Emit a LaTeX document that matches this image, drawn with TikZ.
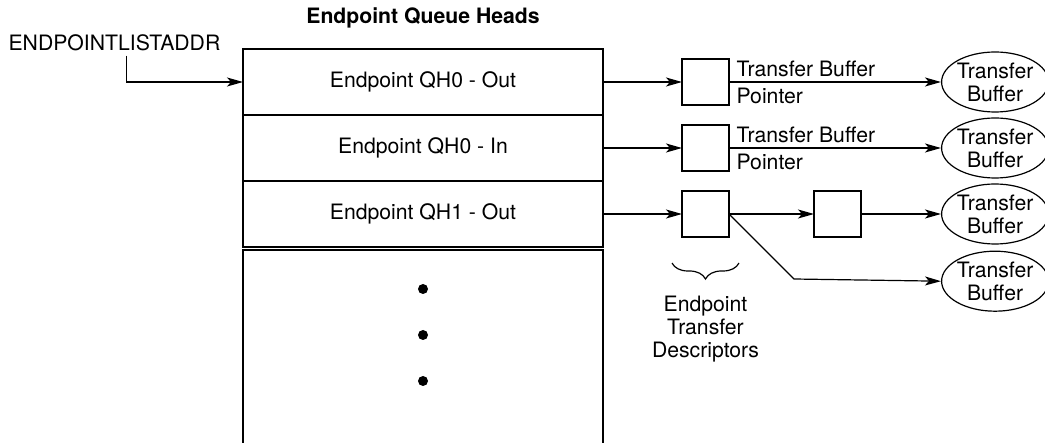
\documentclass[tikz,border=0pt]{standalone}
\usepackage{fontspec}
\setmainfont{TeX Gyre Heros}
\usetikzlibrary{positioning, arrows.meta, shapes.geometric, decorations.pathreplacing}

\begin{document}
\begin{tikzpicture}[
    x=0.5pt, y=-0.5pt,
    font=\fontsize{10.6pt}{11.5pt}\selectfont,
    line width=0.6pt,
    qh/.style={
        rectangle,
        draw,
        outer sep=0pt,
        minimum width=180pt,
        minimum height=33pt
    },
    td/.style={
        rectangle,
        draw,
        outer sep=0pt,
        inner sep=0pt,
        minimum width=23.5pt,
        minimum height=23pt
    },
    buf/.style={
        ellipse,
        draw,
        align=center,
        inner xsep=-1.5pt,
        inner ysep=0pt,
        minimum width=53.5pt,
        minimum height=30pt
    },
    arrow/.style={
        -{Stealth[length=8pt, width=4.5pt, inset=2pt]}
    }
]
\useasboundingbox (0,0) rectangle (1045,443);

\node[font=\fontsize{10.6pt}{11.5pt}\selectfont\bfseries] (title) at (423,18) {Endpoint Queue Heads};
\node[anchor=west, inner sep=2pt] (addr) at (4,43) {ENDPOINTLISTADDR};

\node[qh] (qh0out) at (423,82) {Endpoint QH0 - Out};
\node[qh, below=0pt of qh0out] (qh0in) {Endpoint QH0 - In};
\node[qh, below=0pt of qh0in] (qh1out) {Endpoint QH1 - Out};
\node[minimum width=180pt, minimum height=97pt, inner sep=0pt, outer sep=0pt,
      below=1.5pt of qh1out] (more) {};
\draw (more.south west) -- (more.north west) -- (more.north east) -- (more.south east);
\foreach \y in {289,335,381}
    \fill (423,\y) circle[radius=2.5pt];

\draw[arrow] ([xshift=6pt]addr.south) |- (qh0out.west);

\node[td, right=39.5pt of qh0out] (td0) {};
\node[td, right=39.5pt of qh0in] (td1) {};
\node[td, right=39.5pt of qh1out] (td2) {};
\node[td, right=42.5pt of td2] (td3) {};

\node[buf, right=106pt of td0] (buf0) {Transfer\\Buffer};
\node[buf, right=106pt of td1] (buf1) {Transfer\\Buffer};
\node[buf, right=40pt of td3] (buf2) {Transfer\\Buffer};
\node[buf, below=3pt of buf2] (buf3) {Transfer\\Buffer};

\draw[arrow] (qh0out) -- (td0);
\draw[arrow] (qh0in) -- (td1);
\draw[arrow] (qh1out) -- (td2);

\draw[arrow] (td0) --
    node[pos=0, anchor=south west, inner xsep=3.5pt, inner ysep=2.5pt]{Transfer Buffer}
    node[pos=0, anchor=north west, inner xsep=3.5pt, inner ysep=2.5pt]{Pointer}
    (buf0);
\draw[arrow] (td1) --
    node[pos=0, anchor=south west, inner xsep=3.5pt, inner ysep=2.5pt]{Transfer Buffer}
    node[pos=0, anchor=north west, inner xsep=3.5pt, inner ysep=2.5pt]{Pointer}
    (buf1);

\draw[arrow] (td2) -- (td3);
\draw[arrow] (td3) -- (buf2);
\coordinate (split) at (794,279);
\draw[arrow] (td2.east) -- (split) -- (buf3.west);

\draw[decorate, decoration={brace, mirror, amplitude=8pt}]
    ([xshift=-5pt, yshift=-13pt]td2.south west) -- ([xshift=5pt, yshift=-13pt]td2.south east);
\node[align=center, below=26pt of td2] (desc) {Endpoint\\Transfer\\Descriptors};

\end{tikzpicture}
\end{document}
